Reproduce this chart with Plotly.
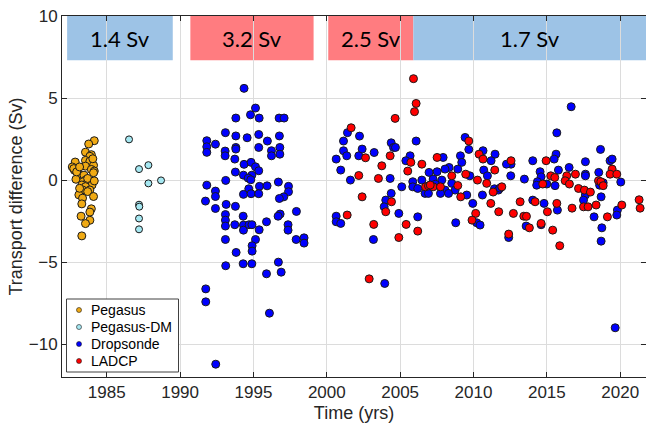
import plotly.graph_objects as go

# ---------------- data ----------------
pegasus_year = [1984.15, 1983.77, 1983.55, 1983.95, 1983.85, 1982.85, 1983.55, 1983.85, 1984.10, 1982.65,
                1983.55, 1983.95, 1984.15, 1984.10, 1982.80, 1983.10, 1983.45, 1982.90, 1983.55, 1983.40,
                1983.65, 1984.00, 1983.30, 1983.55, 1983.85, 1983.35, 1983.70, 1984.10, 1983.10, 1983.35,
                1983.30, 1983.95, 1983.85, 1983.25, 1983.85, 1983.55, 1983.30, 1982.75, 1982.95, 1983.15,
                1984.05, 1983.70, 1984.15, 1983.15]
pegasus_val = [2.40, 2.20, 1.70, 1.55, 1.45, 1.10, 1.20, 1.15, 0.90, 0.80,
               0.85, 0.65, 0.55, 0.45, 0.60, 0.35, 0.30, 0.05, 0.00, -0.10,
               -0.20, -0.30, -0.30, -0.40, -0.60, -0.60, -0.70, -1.00, -0.90, -1.10,
               -1.45, -1.75, -1.95, -2.20, -2.45, -2.65, -3.40, 0.70, 0.50, 0.80,
               1.30, 0.10, -0.05, -0.50]

pegasus_dm_year = [1986.52, 1987.20, 1987.84, 1987.84, 1988.70, 1987.20, 1987.22, 1987.20, 1987.20]
pegasus_dm_val = [2.48, 0.67, 0.91, -0.20, -0.02, -1.50, -1.62, -2.34, -3.00]

dropsonde_year = [
    1994.36, 1995.14, 1994.80, 1993.80, 1995.39, 1996.75, 1997.09, 1993.09, 1993.80, 1994.57,
    1995.36, 1996.77, 1995.95, 1991.82, 1992.41, 1991.82, 1991.82, 1993.80, 1993.80, 1995.36,
    1996.80, 1993.07, 1993.07, 1996.23, 1996.23, 1996.80, 1993.73, 1994.36, 1994.84, 1995.14,
    1995.36, 1993.77, 1994.32, 1994.89, 1993.11, 1991.82, 1994.64, 1994.82, 1995.41, 1995.93,
    1996.70, 1997.39, 1994.68, 1992.41, 1992.41, 1994.32, 1994.84, 1995.36, 1997.39, 1997.07,
    1996.77, 1991.73, 1993.14, 1993.77, 1992.41, 1997.93, 1996.82, 1996.68, 1993.09, 1994.30,
    1993.09, 1993.09, 1993.73, 1994.32, 1994.32, 1994.70, 1994.90, 1995.39, 1995.89, 1997.36,
    1997.36, 1993.09, 1995.14, 1994.91, 1994.91, 1993.82, 1997.91, 1998.45, 1998.45, 1993.11,
    1994.30, 1994.89, 1996.70, 1995.89, 1996.89, 1991.75, 1991.75, 1996.09, 1992.43,
    # 2000 onwards
    2001.41, 2002.23, 2001.14, 2006.09, 2004.39, 2004.55, 2004.68, 2002.41, 2001.14, 2001.36,
    2002.18, 2003.23, 2000.64, 2005.68, 2005.39, 2000.95, 2001.61, 2004.32, 2005.86, 2006.48,
    2005.11, 2005.86, 2006.20, 2006.70, 2004.39, 2004.02, 2003.91, 2004.91, 2000.64, 2000.64,
    2000.95, 2006.20, 2003.18, 2003.95,
    2009.43, 2009.68, 2010.65, 2011.47, 2011.20, 2012.56, 2012.25, 2010.70, 2010.95, 2012.54,
    2013.47, 2014.04, 2007.93, 2009.11, 2009.20, 2008.93, 2008.34, 2008.06, 2007.52, 2006.97,
    2009.75, 2007.25, 2007.84, 2007.40, 2008.52, 2008.75, 2008.06, 2007.75, 2008.30, 2009.54,
    2010.61, 2011.43, 2011.70, 2011.80, 2009.95, 2013.59, 2010.22, 2010.45, 2008.79, 2012.40,
    2014.04, 2006.93,
    2016.66, 2015.68, 2018.66, 2015.63, 2015.50, 2017.63, 2019.31, 2019.45, 2015.79, 2016.52,
    2018.54, 2017.63, 2017.63, 2014.54, 2014.61, 2014.36, 2014.31, 2015.00, 2015.56, 2017.63,
    2017.50, 2018.70, 2018.60, 2018.84, 2020.04, 2014.81, 2015.72, 2018.22, 2019.81, 2019.77,
    2014.61, 2018.75, 2018.70, 2019.66]
dropsonde_val = [
    5.59, 4.39, 3.98, 3.78, 3.78, 3.78, 3.78, 2.89, 2.69, 2.58,
    2.78, 2.69, 2.38, 2.40, 2.19, 2.03, 1.69, 1.99, 1.89, 1.99,
    1.99, 1.77, 1.48, 1.79, 1.48, 1.58, 1.28, 0.96, 1.08, 0.81,
    0.57, 0.49, 0.30, 0.30, -0.02, -0.31, 0.12, 0.02, -0.38, -0.35,
    -0.12, -0.38, -0.53, -0.67, -1.00, -0.87, -0.83, -0.83, -0.71, -1.02,
    -1.12, -1.28, -1.48, -1.60, -1.73, -1.91, -2.07, -2.20, -2.10, -2.20,
    -2.44, -2.80, -2.72, -2.74, -3.05, -2.72, -2.72, -3.03, -2.54, -2.72,
    -3.05, -3.62, -3.62, -4.00, -4.33, -4.41, -3.62, -3.52, -3.84, -5.22,
    -5.10, -5.10, -5.00, -5.71, -5.61, -6.63, -7.42, -8.11, -11.22,
    2.89, 2.68, 2.38, 2.38, 2.27, 1.99, 1.99, 1.89, 1.79, 1.48,
    1.48, 1.68, 1.28, 1.48, 1.18, 0.61, 0.00, 0.10, -0.10, 0.00,
    -0.41, -0.41, -0.51, -0.81, -0.81, -1.22, -1.63, -2.03, -2.20, -2.54,
    -2.64, -2.24, -3.62, -6.30,
    2.60, 1.87, 1.79, 1.58, 1.18, 0.97, 0.97, 0.61, 0.26, 0.26,
    0.06, 1.18, 1.38, 1.48, 1.08, 0.67, 0.77, 0.67, 0.51, 0.47,
    0.26, 0.06, 0.00, -0.25, -0.20, -0.61, -0.61, -0.81, -0.81, -0.91,
    -0.91, -0.53, -0.61, -0.49, -1.42, -2.80, -2.60, -2.74, -2.60, -3.50,
    -1.22, -0.81,
    4.47, 2.88, 1.87, 1.58, 1.28, 1.12, 1.18, 1.28, 0.61, 0.77,
    0.47, 0.36, 0.26, 0.51, 0.20, -0.10, -0.31, -0.24, -0.34, -0.91,
    -1.22, -1.02, -0.31, -0.16, -0.12, -1.42, -1.83, -2.24, -1.83, -2.13,
    -2.72, -2.91, -3.72, -9.00]

ladcp_year = [
    2005.91, 2006.09, 2005.98, 2004.66, 2001.66, 2002.64, 2004.32, 2005.73, 2006.48, 2003.75,
    2005.52, 2002.18, 2003.52, 2006.73, 2006.93, 2002.41, 2004.41, 2004.02, 2001.39, 2003.20,
    2005.41, 2006.20, 2004.91, 2002.89,
    2009.68, 2010.38, 2010.65, 2012.56, 2011.45, 2007.52, 2009.47, 2008.52, 2010.27, 2010.90,
    2007.25, 2007.75, 2008.93, 2009.13, 2011.34, 2011.93, 2011.18, 2013.18, 2011.72, 2012.72,
    2013.43, 2013.61, 2013.81, 2010.15, 2009.90, 2012.40, 2014.20, 2007.05,
    2014.95, 2019.45, 2019.31, 2019.77, 2016.95, 2015.27, 2015.54, 2016.36, 2016.25, 2016.54,
    2014.72, 2017.16, 2017.56, 2017.97, 2018.52, 2018.68, 2018.84, 2021.29, 2021.36, 2015.68,
    2015.04, 2016.72, 2017.50, 2017.81, 2018.36, 2019.13, 2020.11, 2014.61, 2015.40, 2015.88]
ladcp_val = [
    6.18, 4.67, 4.17, 3.76, 3.19, 1.36, 1.48, 1.08, 0.97, 0.87,
    0.55, 0.28, 0.10, -0.41, -0.35, -1.02, -1.32, -1.93, -2.13, -2.70,
    -2.70, -3.11, -3.50, -6.02,
    2.38, 1.58, 1.28, 1.18, 0.61, 1.38, 0.36, 0.26, 0.00, -0.20,
    -0.41, -0.41, -0.33, -1.02, -0.73, -0.41, -1.42, -1.32, -1.93, -2.03,
    -2.20, -2.21, -2.91, -2.03, -2.44, -3.29, -1.32, -0.30,
    1.18, 0.67, 0.36, 0.36, 0.36, 0.26, 0.16, 0.26, -0.04, -0.24,
    -0.24, -0.51, -0.61, -0.73, -0.04, -0.10, -0.34, -1.20, -1.71, -1.42,
    -1.93, -1.71, -1.63, -1.63, -1.52, -2.24, -1.52, -2.64, -3.05, -4.00]

# period boxes: start, end, label
period_start = [1982.3, 1990.7, 2000.1, 2005.9]
period_end = [1989.5, 1999.1, 2005.9, 2021.76]
period_label = ["1.4 Sv", "3.2 Sv", "2.5 Sv", "1.7 Sv"]
period_color = ["#9DC3E6", "#FF7C80", "#FF7C80", "#9DC3E6"]

x_ticks = [1985, 1990, 1995, 2000, 2005, 2010, 2015, 2020]
y_ticks = [-10, -5, 0, 5, 10]

# ---------------- figure ----------------
W, H = 646, 425
ML, MR, MT, MB = 62, 0, 16, 48
PW, PH = W - ML - MR, H - MT - MB

fig = go.Figure()

series = [
    ("Pegasus", pegasus_year, pegasus_val, "#F0AA14", 8),
    ("Pegasus-DM", pegasus_dm_year, pegasus_dm_val, "#A6E8F2", 7),
    ("Dropsonde", dropsonde_year, dropsonde_val, "#0000FF", 8),
    ("LADCP", ladcp_year, ladcp_val, "#FF0000", 8),
]

for name, xs, ys, col, sz in series:
    fig.add_trace(go.Scatter(
        x=xs, y=ys, mode="markers", name=name, showlegend=False,
        marker=dict(size=sz, color=col, line=dict(color="#1a1a1a", width=1)),
    ))

for s, e, lab, col in zip(period_start, period_end, period_label, period_color):
    fig.add_shape(type="rect", xref="x", yref="y", x0=s, x1=e, y0=7.3, y1=10,
                  fillcolor=col, line=dict(width=0), layer="below")
    fig.add_annotation(x=(s + e) / 2, y=8.65, xref="x", yref="y", text=lab,
                       showarrow=False, font=dict(family="Lato, Open Sans, sans-serif",
                                                  size=22, color="#000000"))

# compact MATLAB-style legend box (pixel layout converted to paper coords)
def px2paper_x(px):
    return (px - ML) / PW

def px2paper_y(py):
    return (H - MB - py) / PH

leg_left, leg_right, leg_top, leg_bottom = 66.5, 178.5, 299, 372
fig.add_shape(type="rect", xref="paper", yref="paper",
              x0=px2paper_x(leg_left), x1=px2paper_x(leg_right),
              y0=px2paper_y(leg_bottom), y1=px2paper_y(leg_top),
              fillcolor="white", line=dict(color="#404040", width=1), layer="above")
row_y0, row_dy = 310, 17
for i, (name, xs, ys, col, sz) in enumerate(series):
    yc = px2paper_y(row_y0 + i * row_dy)
    fig.add_shape(type="circle", xref="paper", yref="paper",
                  xsizemode="pixel", ysizemode="pixel",
                  xanchor=px2paper_x(79), yanchor=yc,
                  x0=-2.5, x1=2.5, y0=-2.5, y1=2.5,
                  fillcolor=col, line=dict(color="#1a1a1a", width=0.6), layer="above")
    fig.add_annotation(x=px2paper_x(89), y=yc, xref="paper", yref="paper",
                       xanchor="left", yanchor="middle", text=name, showarrow=False,
                       font=dict(family="Liberation Sans, Arial, sans-serif", size=14, color="#000000"))

axis_common = dict(
    showline=True, linecolor="#262626", linewidth=1, mirror="ticks",
    ticks="inside", ticklen=5, tickcolor="#262626", tickwidth=1,
    showgrid=True, gridcolor="#DCDCDC", gridwidth=1, zeroline=False,
    tickfont=dict(family="Liberation Sans, Arial, sans-serif", size=17, color="#262626"),
)

fig.update_xaxes(range=[1981.95, 2021.76], tickvals=x_ticks,
                 title=dict(text="Time (yrs)", standoff=4,
                            font=dict(family="Liberation Sans, Arial, sans-serif", size=18, color="#262626")),
                 **axis_common)
fig.update_yaxes(range=[-12, 10], tickvals=y_ticks,
                 title=dict(text="Transport difference (Sv)", standoff=1,
                            font=dict(family="Liberation Sans, Arial, sans-serif", size=18, color="#262626")),
                 **axis_common)

fig.update_layout(
    width=W, height=H,
    margin=dict(l=ML, r=MR, t=MT, b=MB, autoexpand=False),
    plot_bgcolor="white", paper_bgcolor="white",
    showlegend=False,
)

fig.write_html("out.html", config={"displayModeBar": False},
               post_script="document.body.style.margin='0px';document.body.style.overflow='hidden';")
